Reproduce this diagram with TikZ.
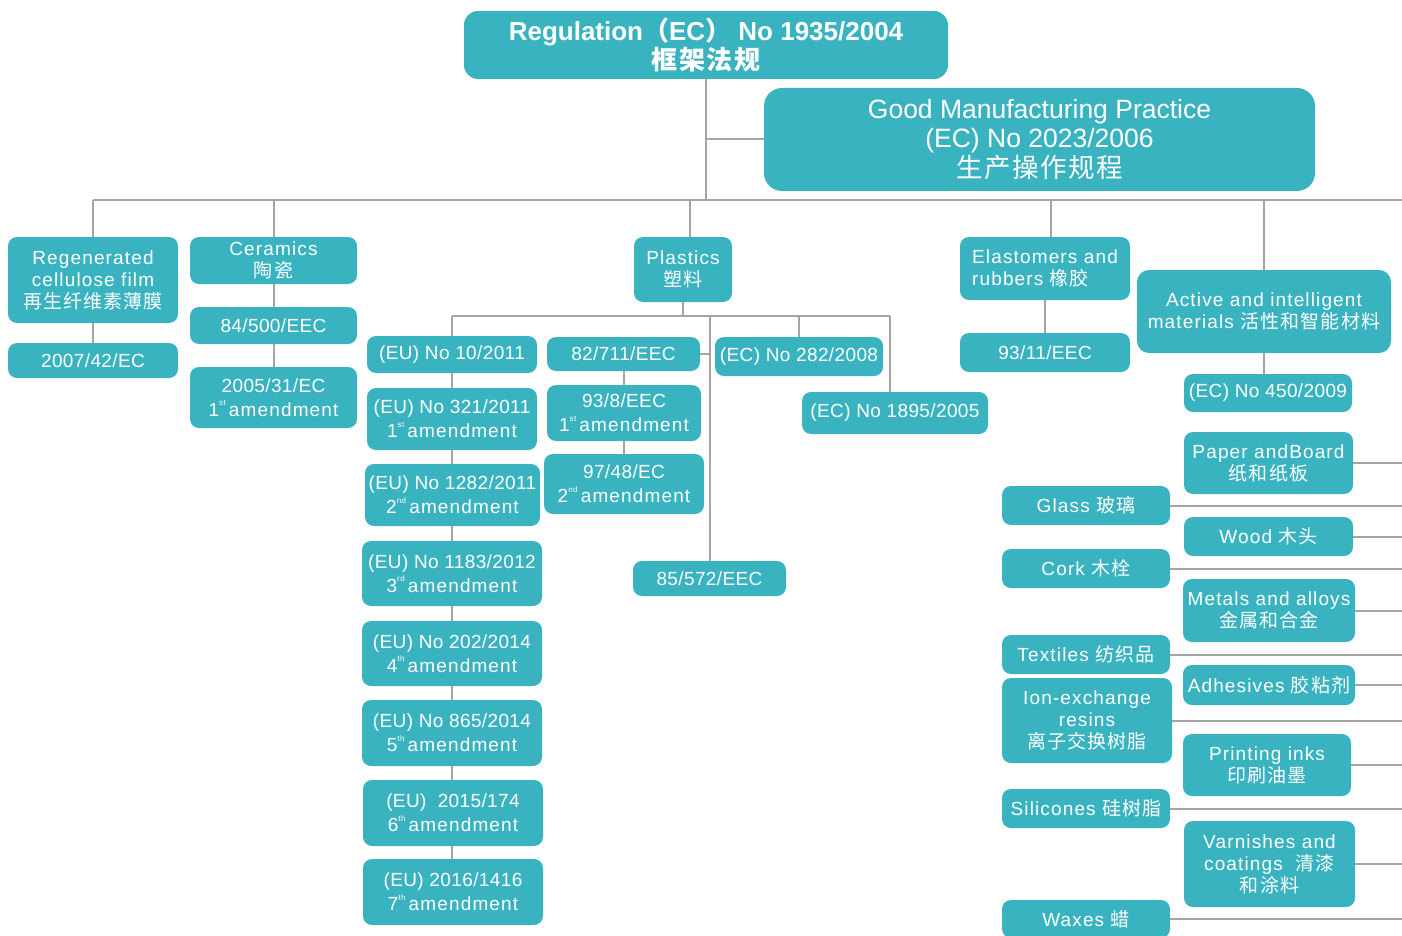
\documentclass[tikz,border=0pt]{standalone}
\usepackage{fontspec}
\setmainfont{Liberation Sans}[LetterSpace=6]
\newfontfamily\codef{Liberation Sans}[LetterSpace=2]
\newfontfamily\plainf{Liberation Sans}
\newfontfamily\cjkf{Noto Sans CJK SC}[LetterSpace=6]
\newcommand\zh[1]{{\cjkf #1}}
\newcommand\sups[1]{\raisebox{0.55em}{\fontsize{8}{8}\selectfont #1}}
\newcommand\amd[2]{{\rmfamily #1\sups{#2}\,amendment}}
\definecolor{teal0}{RGB}{58,179,193}
\definecolor{linegray}{RGB}{165,165,165}
\newcommand\bx[7][]{\node[box,#1,minimum width={#5-#3},minimum height={#6-#4}] (#2) at ({(#3+#5)/2},{(#4+#6)/2}) {#7};}
\begin{document}
\begin{tikzpicture}[x=1pt,y=-1pt,
  box/.style={fill=teal0,rounded corners=9pt,text=white,inner sep=0pt,align=center,font=\fontsize{19}{22}\selectfont},
  code/.style={font=\codef\fontsize{19}{24}\selectfont},
  conn/.style={draw=linegray,line width=2pt}]
\fill[white] (0,0) rectangle (1402,936);
\clip (0,0) rectangle (1402,936);
% top
\bx[rounded corners=14pt,font={\plainf\bfseries\fontsize{26}{29.5}\selectfont}]{reg}{464}{11}{948}{79}{Regulation\zh{（}EC\zh{）} No 1935/2004\\\zh{框架法规}}
\bx[rounded corners=18pt,font={\plainf\fontsize{26.5}{29.5}\selectfont}]{gmp}{764}{88}{1315}{191}{Good Manufacturing Practice\\(EC) No 2023/2006\\\zh{生产操作规程}}
% left
\bx{regen}{8}{237}{178}{323}{Regenerated\\cellulose film\\\zh{再生纤维素薄膜}}
\bx[code]{r2007}{8}{343}{178}{378}{2007/42/EC}
\bx{cer}{190}{237}{357}{284}{Ceramics\\\zh{陶瓷}}
\bx[code]{c84}{190}{307}{357}{344}{84/500/EEC}
\bx[code]{c2005}{190}{367}{357}{428}{2005/31/EC\\\amd{1}{st}}
% plastics
\bx{pla}{634}{237}{732}{302}{Plastics\\\zh{塑料}}
\bx[code]{eu10}{367}{336}{537}{373}{(EU) No 10/2011}
\bx[code]{eu321}{367}{388}{537}{450}{(EU) No 321/2011\\\amd{1}{st}}
\bx[code]{eu1282}{365}{464}{540}{526}{(EU) No 1282/2011\\\amd{2}{nd}}
\bx[code]{eu1183}{362}{541}{542}{606}{(EU) No 1183/2012\\\amd{3}{rd}}
\bx[code]{eu202}{362}{621}{542}{686}{(EU) No 202/2014\\\amd{4}{th}}
\bx[code]{eu865}{362}{700}{542}{766}{(EU) No 865/2014\\\amd{5}{th}}
\bx[code]{eu174}{363}{780}{543}{846}{(EU)\ \ 2015/174\\\amd{6}{th}}
\bx[code]{eu1416}{363}{859}{543}{925}{(EU) 2016/1416\\\amd{7}{th}}
\bx[code]{e82}{547}{337}{700}{371}{82/711/EEC}
\bx[code]{e93}{547}{385}{701}{441}{93/8/EEC\\\amd{1}{st}}
\bx[code]{e97}{544}{454}{704}{514}{97/48/EC\\\amd{2}{nd}}
\bx[code]{e85}{633}{561}{786}{596}{85/572/EEC}
\bx[code]{e282}{715}{337}{883}{376}{(EC) No 282/2008}
\bx[code]{e1895}{802}{392}{988}{434}{(EC) No 1895/2005}
% elastomers / active
\bx[align=left]{ela}{960}{237}{1130}{300}{Elastomers and\\rubbers \zh{橡胶}}
\bx[code]{e9311}{960}{333}{1130}{372}{93/11/EEC}
\bx[rounded corners=12pt]{act}{1137}{270}{1391}{353}{Active and intelligent\\materials \zh{活性和智能材料}}
\bx[code]{e450}{1184}{374}{1352}{412}{(EC) No 450/2009}
% right list
\bx{pap}{1184}{432}{1353}{494}{Paper andBoard\\\zh{纸和纸板}}
\bx{gla}{1002}{486}{1170}{525}{Glass \zh{玻璃}}
\bx{woo}{1184}{517}{1353}{556}{Wood \zh{木头}}
\bx{cor}{1002}{549}{1170}{588}{Cork \zh{木栓}}
\bx{met}{1183}{579}{1355}{642}{Metals and alloys\\\zh{金属和合金}}
\bx{tex}{1002}{635}{1170}{674}{Textiles \zh{纺织品}}
\bx{adh}{1183}{665}{1355}{705}{Adhesives \zh{胶粘剂}}
\bx{ion}{1002}{678}{1172}{763}{Ion-exchange\\resins\\\zh{离子交换树脂}}
\bx{pri}{1183}{734}{1351}{796}{Printing inks\\\zh{印刷油墨}}
\bx{sil}{1002}{789}{1170}{828}{Silicones \zh{硅树脂}}
\bx{var}{1184}{821}{1355}{907}{Varnishes and\\coatings\ \ \zh{清漆}\\\zh{和涂料}}
\bx{wax}{1002}{900}{1170}{938}{Waxes \zh{蜡}}
% coordinates
\coordinate (busL) at (93,200);
\coordinate (busR) at (1402,200);
\coordinate (pd) at (690,200);
\coordinate (ed) at (1051,200);
\coordinate (pb) at (452,316);
\coordinate (pbR) at (890,316);
\coordinate (re) at (1402,0);
% connectors
\draw[conn] (reg.south) -- (reg.south |- busL);
\draw[conn] (reg.south |- gmp.west) -- (gmp.west);
\draw[conn] (busL) -- (busR);
\draw[conn] (busL) -- (regen.north);
\draw[conn] (cer.north |- busL) -- (cer.north);
\draw[conn] (pd) -- (pd |- pla.north);
\draw[conn] (ed) -- (ed |- ela.north);
\draw[conn] (act.north |- busL) -- (act.north);
\draw[conn] (regen.south) -- (regen.south |- r2007.north);
\draw[conn] (cer.south) -- (cer.south |- c84.north);
\draw[conn] (c84.south) -- (c84.south |- c2005.north);
\draw[conn] (pla.south) -- (pla.south |- pb);
\draw[conn] (pb) -- (pbR);
\draw[conn] (pb) -- (pb |- eu10.north);
\foreach \a/\b in {eu10/eu321,eu321/eu1282,eu1282/eu1183,eu1183/eu202,eu202/eu865,eu865/eu174,eu174/eu1416}
  \draw[conn] (pb |- \a.south) -- (pb |- \b.north);
\draw[conn] (e85.north |- pb) -- (e85.north);
\draw[conn] (e82.east) -- (e82.east -| e85.north);
\draw[conn] (e82.south) -- (e82.south |- e93.north);
\draw[conn] (e82.south |- e93.south) -- (e82.south |- e97.north);
\draw[conn] (e282.north |- pb) -- (e282.north);
\draw[conn] (pbR) -- (pbR |- e1895.north);
\draw[conn] (ela.south) -- (ela.south |- e9311.north);
\draw[conn] (act.south) -- (act.south |- e450.north);
\foreach \n in {pap,gla,woo,cor,met,tex,adh,ion,pri,sil,var,wax}
  \draw[conn] (\n.east) -- (\n.east -| re);
\end{tikzpicture}
\end{document}
